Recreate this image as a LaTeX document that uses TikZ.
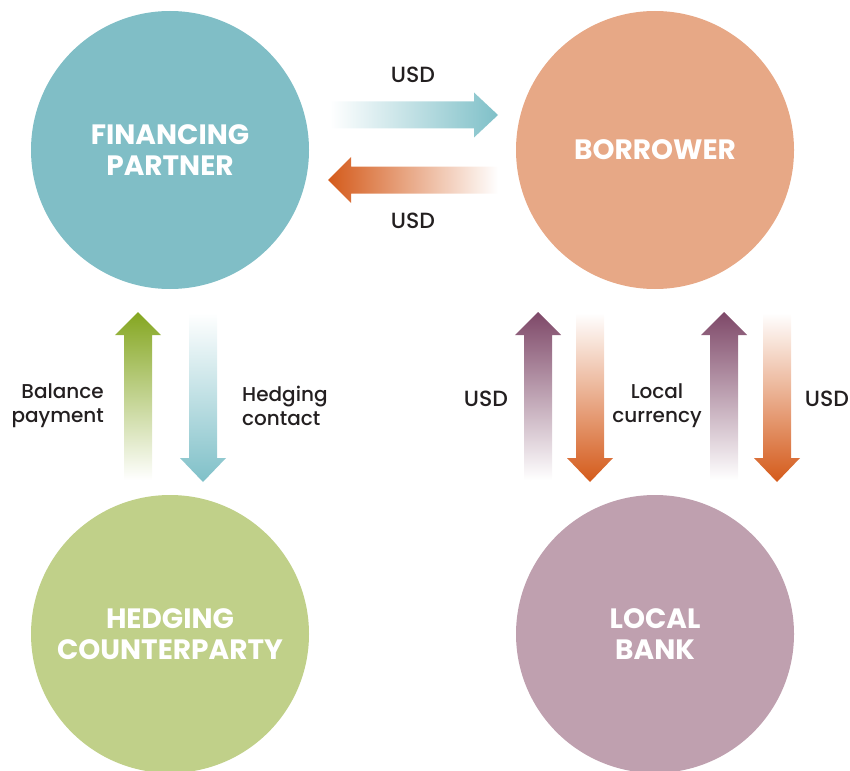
\documentclass[tikz,border=0pt]{standalone}
\usepackage{fontspec}
\setmainfont{Poppins}
\newfontfamily\lblfont{Poppins Medium}
\definecolor{cteal}{HTML}{80BEC6}
\definecolor{corange}{HTML}{E7A886}
\definecolor{cgreen}{HTML}{C0D089}
\definecolor{cpurple}{HTML}{BFA0AF}
\definecolor{ateal}{HTML}{7FC0C8}
\definecolor{aorange}{HTML}{D45A1A}
\definecolor{agreen}{HTML}{84A620}
\definecolor{apurple}{HTML}{7E4868}
\definecolor{ink}{HTML}{231F20}
\begin{document}
\begin{tikzpicture}[x=1pt,y=-1pt,
  party/.style={circle,minimum size=278pt,inner sep=0pt,text=white,align=center,
    font=\fontsize{28}{31}\selectfont\bfseries},
  lbl/.style={text=ink,font=\lblfont\fontsize{20}{24}\selectfont,inner sep=0pt},
  usd/.style={lbl,font=\lblfont\fontsize{22}{24}\selectfont}]
\useasboundingbox (0,0) rectangle (850,770);
\clip (0,0) rectangle (850,770);
\node[party,fill=cteal] (fp) at (170,150) {FINANCING\\PARTNER};
\node[party,fill=corange] (bo) at (655,150) {BORROWER};
\node[party,fill=cgreen] (hc) at (170,634) {HEDGING\\COUNTERPARTY};
\node[party,fill=cpurple] (lb) at (655,634) {LOCAL\\BANK};
% horizontal arrows
\shade[left color=white,right color=ateal]
  (330,101.5) -- (474,101.5) -- (474,92.5) -- (498,115) -- (474,137.5) -- (474,128.5) -- (330,128.5) -- cycle;
\shade[left color=aorange,right color=white]
  (498,166.5) -- (351,166.5) -- (351,157) -- (328,180) -- (351,203) -- (351,193.5) -- (498,193.5) -- cycle;
\node[usd] (u1) at (413,75) {USD};
\node[usd] (u2) at (413,221) {USD};
% vertical arrows left
\shade[top color=agreen,bottom color=white]
  (124,480) -- (124,335) -- (115,335) -- (138,312) -- (161,335) -- (152,335) -- (152,480) -- cycle;
\shade[top color=white,bottom color=ateal]
  (189,313) -- (189,458) -- (180,458) -- (203,482) -- (226,458) -- (217,458) -- (217,313) -- cycle;
\node[lbl,align=right,anchor=east] (bp) at (104,406) {Balance\\payment};
\node[lbl,align=left,anchor=west] (hcl) at (242,406) {Hedging\\contact};
% vertical arrows right
\shade[top color=apurple,bottom color=white]
  (524,480) -- (524,335) -- (515,335) -- (538,312) -- (561,335) -- (552,335) -- (552,480) -- cycle;
\shade[top color=white,bottom color=aorange]
  (576,313) -- (576,458) -- (567,458) -- (590,482) -- (613,458) -- (604,458) -- (604,313) -- cycle;
\shade[top color=apurple,bottom color=white]
  (710,480) -- (710,335) -- (701,335) -- (724,312) -- (747,335) -- (738,335) -- (738,480) -- cycle;
\shade[top color=white,bottom color=aorange]
  (763,313) -- (763,458) -- (754,458) -- (777,482) -- (800,458) -- (791,458) -- (791,313) -- cycle;
\node[usd] (u3) at (486,399) {USD};
\node[lbl,align=center] (lc) at (657,406) {Local\\currency};
\node[usd] (u4) at (827,399) {USD};
\end{tikzpicture}
\end{document}
